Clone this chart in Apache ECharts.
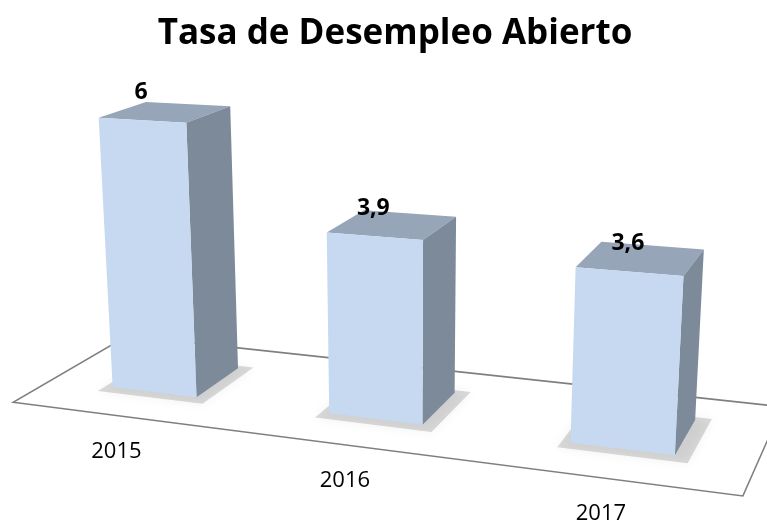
<!DOCTYPE html>
<html>
<head>
<meta charset="utf-8">
<title>Tasa de Desempleo Abierto</title>
<script src="https://cdn.jsdelivr.net/npm/echarts/dist/echarts.min.js"></script>
<style>
  html, body { margin: 0; padding: 0; background: #fff; }
  #chart { width: 767px; height: 522px; }
</style>
</head>
<body>
<div id="chart"></div>
<script>
// datos
const years = ['2015', '2016', '2017']
const rates = [6, 3.9, 3.6]
const rateLabels = ['6', '3,9', '3,6']

// camara en perspectiva (3 puntos de fuga), unidades: categoria, valor, profundidad
const cam = {
  ox: 112, oy: 387,
  vx: [-3900, -100],
  vy: [407, 6060],
  vz: [1050, -200],
  s0: 0.0152, ds: -0.0512, du: -0.00755
}
const barHalf = 0.2
const barDepth = 0.05
const floorFront = -0.038
const floorBack = 0.083

function project (X, Y, t) {
  let s = cam.s0 + cam.ds * X
  let u = cam.du * Y
  let hx = cam.ox + s * cam.vx[0] + u * cam.vy[0] + t * cam.vz[0]
  let hy = cam.oy + s * cam.vx[1] + u * cam.vy[1] + t * cam.vz[1]
  let hw = 1 + s + u + t
  return [hx / hw, hy / hw]
}

function poly (points, style) {
  return { type: 'polygon', shape: { points: points }, style: style }
}

// piso
const renderFloor = (params, api) => {
  let cs = params.coordSys
  let band = api.size([1, 0])[0]
  let xMax = cs.width / band
  return poly([
    project(0, 0, floorFront),
    project(xMax, 0, floorFront),
    project(xMax, 0, floorBack),
    project(0, 0, floorBack)
  ], { fill: '#fff', stroke: '#7f7f7f', lineWidth: 1.5 })
}

// barras 3D
const renderBar = (params, api) => {
  let cs = params.coordSys
  let idx = api.value(0)
  let base = api.coord([idx, 0])
  let top = api.coord([idx, api.value(1)])
  let band = api.size([1, 0])[0]
  let Xc = (base[0] - cs.x) / band
  let V = (base[1] - top[1]) / api.size([0, 1])[1]
  let x0 = Xc - barHalf, x1 = Xc + barHalf, d = barDepth

  // sombra difusa sobre el piso
  let shadow = poly([
    project(x0 - 0.035, 0, -0.008),
    project(x1 + 0.06, 0, -0.008),
    project(x1 + 0.06, 0, d + 0.004),
    project(x0 - 0.035, 0, d + 0.004)
  ], { fill: 'rgba(0,0,0,0.14)', shadowBlur: 12, shadowColor: 'rgba(0,0,0,0.4)' })

  let topFace = poly([
    project(x0, V, 0), project(x1, V, 0), project(x1, V, d), project(x0, V, d)
  ], { fill: '#96a5b8' })

  let side = poly([
    project(x1, 0, 0), project(x1, 0, d), project(x1, V, d), project(x1, V, 0)
  ], { fill: '#7c8a99' })

  let front = poly([
    project(x0, 0, 0), project(x1, 0, 0), project(x1, V, 0), project(x0, V, 0)
  ], { fill: '#c6d9f1' })

  let lp = project(Xc, V, 0)
  let valueText = {
    type: 'text',
    x: lp[0] - 1, y: lp[1] - 28,
    style: {
      text: rateLabels[idx], fill: '#000', fontFamily: 'Open Sans', fontWeight: 'bold',
      fontSize: 23, align: 'center', verticalAlign: 'middle'
    }
  }

  let yp = project(Xc, 0, floorFront)
  let yearText = {
    type: 'text',
    x: yp[0] - 2, y: yp[1] + 36,
    style: {
      text: years[idx], fill: '#000', fontFamily: 'Open Sans',
      fontSize: 22, align: 'center', verticalAlign: 'middle'
    }
  }

  return { type: 'group', children: [shadow, topFace, side, front, valueText, yearText] }
}

let chart = echarts.init(document.getElementById('chart'))
chart.setOption({
  animation: false,
  title: {
    text: 'Tasa de Desempleo Abierto',
    left: 390,
    textAlign: 'center',
    top: 12,
    textStyle: { fontFamily: 'Open Sans', fontWeight: 'bold', fontSize: 35, color: '#000' }
  },
  grid: { left: 0, right: 0, top: 0, bottom: 0 },
  xAxis: { type: 'category', data: years, show: false },
  yAxis: { type: 'value', min: 0, max: 7, show: false },
  series: [
    {
      type: 'custom',
      renderItem: renderFloor,
      data: [[0, 0]],
      z: 1,
      silent: true
    },
    {
      type: 'custom',
      renderItem: renderBar,
      data: rates.map((v, i) => [i, v]),
      z: 2
    }
  ]
})
</script>
</body>
</html>
